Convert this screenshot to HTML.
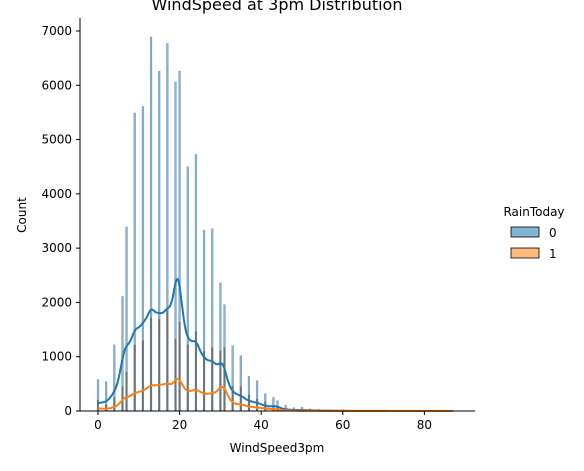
<!DOCTYPE html>
<html><head><meta charset="utf-8"><style>
body{margin:0;background:#fff;font-family:"Liberation Sans","DejaVu Sans",sans-serif}
svg text{font-family:"DejaVu Sans","Liberation Sans",sans-serif}
</style></head><body>
<svg id="c" width="584" height="466" xmlns="http://www.w3.org/2000/svg"></svg>
<script>
const speeds=[0,2,4,6,7,9,11,13,15,17,19,20,22,24,26,28,30,31,33,35,37,39,41,43,44,46,48,50,52,54,56,57,59,61,63,65,67,69,70,72,74,76,78,80,81,83,85,87];
const countsNo=[580,540,1220,2110,3390,5490,5610,6890,6260,6770,6060,6260,4500,4730,3330,3360,2360,1960,1200,1020,640,560,320,250,190,110,60,70,40,30,20,15,12,10,8,6,5,4,3,3,2,2,2,1,1,1,1,1];
const countsYes=[200,120,250,450,720,1220,1300,1720,1690,1850,1330,1640,1220,1470,1100,1170,1110,1170,460,450,300,220,170,90,70,40,25,20,12,10,6,5,4,3,2,2,2,1,1,1,1,1,1,1,0,0,0,0];
const yTicks=[0,1000,2000,3000,4000,5000,6000,7000];
const xTicks=[0,20,40,60,80];
const hues=["0","1"];

const svg=document.getElementById('c');const NS='http://www.w3.org/2000/svg';
const X=v=>98+v*4.08, Y=v=>411-v*0.054286;
function mk(t,a,p){const e=document.createElementNS(NS,t);for(const k in a)e.setAttribute(k,a[k]);(p||svg).appendChild(e);return e;}
const bw=0.45*4.08;
speeds.forEach((s,i)=>{
 const b=mk('rect',{x:X(s)-bw/2,y:Y(countsNo[i]),width:bw,height:411-Y(countsNo[i]),fill:'rgba(31,119,180,0.55)',stroke:'rgba(40,60,80,0.35)','stroke-width':0.5});
 
 
});
speeds.forEach((s,i)=>{
 const b=mk('rect',{x:X(s)-bw/2,y:Y(countsYes[i]),width:bw,height:411-Y(countsYes[i]),fill:'rgba(95,95,95,0.75)'});
 
 
});
function kde(counts,h,scale){let d='';for(let x=0;x<=87;x+=0.25){let v=0;speeds.forEach((s,i)=>{v+=counts[i]*Math.exp(-0.5*((x-s)/h)**2)});v=v/(h*Math.sqrt(2*Math.PI))*scale;d+=(d?'L':'M')+X(x).toFixed(1)+','+Y(v).toFixed(1);}return d;}
let k=mk('path',{d:kde(countsNo,1.1,0.56),fill:'none',stroke:'#1f77b4','stroke-width':2});

k=mk('path',{d:kde(countsYes,1.1,0.56),fill:'none',stroke:'#ff7f0e','stroke-width':2});

mk('line',{x1:80,y1:411,x2:475,y2:411,stroke:'#000','stroke-width':1});
mk('line',{x1:80,y1:18,x2:80,y2:411,stroke:'#000','stroke-width':1});
yTicks.forEach(t=>{mk('line',{x1:76,x2:80,y1:Y(t),y2:Y(t),stroke:'#000'});const e=mk('text',{x:72,y:Y(t)+4,'text-anchor':'end','font-size':12});e.textContent=t;});
xTicks.forEach(t=>{mk('line',{x1:X(t),x2:X(t),y1:411,y2:415,stroke:'#000'});const e=mk('text',{x:X(t),y:429,'text-anchor':'middle','font-size':12});e.textContent=t;});
let t=mk('text',{x:277,y:452,'text-anchor':'middle','font-size':12});t.textContent='WindSpeed3pm';
t=mk('text',{x:26,y:215,'text-anchor':'middle','font-size':12,transform:'rotate(-90 26 215)'});t.textContent='Count';
t=mk('text',{x:277,y:10,'text-anchor':'middle','font-size':16});t.textContent='WindSpeed at 3pm Distribution';
t=mk('text',{x:534,y:216,'text-anchor':'middle','font-size':12});t.textContent='RainToday';
const cols=['rgba(31,119,180,0.55)','rgba(255,127,14,0.55)'];
hues.forEach((h,i)=>{const g=mk('g',{});
mk('rect',{x:511,y:227+i*21,width:28,height:10,fill:cols[i],stroke:'#000','stroke-width':0.8},g);
const e=mk('text',{x:549,y:237+i*21,'font-size':12},g);e.textContent=h;});
</script>
</body></html>
